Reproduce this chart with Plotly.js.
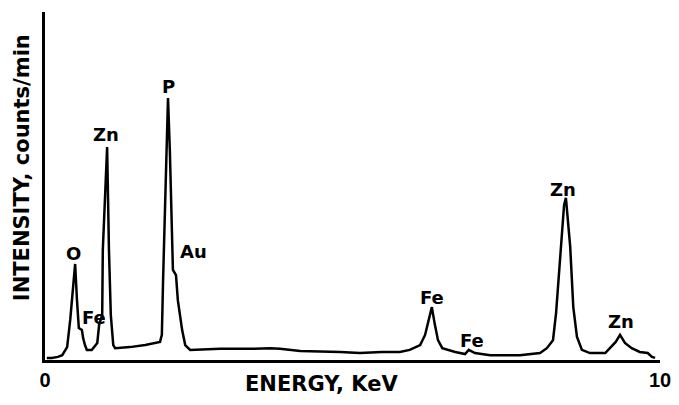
<!DOCTYPE html>
<html>
<head>
<meta charset="utf-8">
<script src="https://cdn.plot.ly/plotly-3.0.1.min.js"></script>
<style>html,body{margin:0;padding:0;background:#fff;}#chart{width:679px;height:405px;}</style>
</head>
<body>
<div id="chart"></div>
<script>
// Spectrum trace (energy in keV, intensity in arbitrary counts/min units, 0-100 scale)
const energy = [0.03,0.11,0.21,0.28,0.36,0.41,0.46,0.49,0.52,0.55,0.60,0.62,0.65,0.68,0.76,0.85,0.88,0.93,0.94,1.01,1.04,1.07,1.11,1.14,1.38,1.63,1.87,1.90,1.92,1.98,2.00,2.03,2.07,2.08,2.13,2.16,2.23,2.28,2.36,2.85,3.33,3.66,3.82,4.15,4.80,5.12,5.48,5.77,5.93,6.10,6.18,6.23,6.29,6.34,6.39,6.46,6.67,6.83,6.89,6.99,7.24,7.72,8.05,8.16,8.26,8.31,8.37,8.44,8.47,8.54,8.59,8.65,8.73,8.86,9.11,9.19,9.28,9.35,9.43,9.54,9.67,9.80,9.87,9.92];
const intensity = [0.6,0.6,0.9,1.4,3.7,11.5,21.6,27.6,17.2,9.2,8.6,6.3,4.3,2.9,2.9,4.9,10.1,12.9,31.6,61.2,31.6,12.9,4.3,3.4,3.7,4.3,5.2,7.2,23.0,60.3,75.3,60.3,34.5,25.9,24.4,17.2,8.6,4.3,2.9,3.2,3.2,3.4,3.2,2.6,2.3,2.0,2.3,2.3,2.9,4.3,7.2,10.6,15.2,10.1,5.7,3.4,2.3,1.7,2.9,2.0,1.4,1.4,2.0,3.4,5.7,13.5,27.9,44.5,46.6,32.5,15.2,6.6,2.9,2.0,2.0,3.4,5.2,7.2,4.9,3.4,2.3,2.0,0.9,0.6];

// Peak labels
const peakNames = ["O","Fe","Zn","P","Au","Fe","Fe","Zn","Zn"];
const peakEnergy = [0.46,0.80,0.99,2.00,2.41,6.29,6.94,8.42,9.37];
const peakLabelY = [30.7,12.1,64.7,78.7,31.3,18.1,5.7,48.9,11.2];

// Axis labels
const xTickVals = [0,10];
const xTickText = ["0","10"];
const xTitle = "ENERGY, KeV";
const yTitle = "INTENSITY, counts/min";

const labelFont = {family:"DejaVu Sans", size:18, color:"#000"};

const annotations = peakNames.map((n,i)=>({
  x: peakEnergy[i], y: peakLabelY[i], xref:"x", yref:"y",
  text: "<b>"+n+"</b>", showarrow:false, xanchor:"center", yanchor:"middle",
  font: labelFont
}));
annotations.push({
  xref:"paper", yref:"paper", x:0.45, y:-0.069, text:"<b>"+xTitle+"</b>",
  showarrow:false, xanchor:"center", yanchor:"middle",
  font:{family:"DejaVu Sans", size:21, color:"#000"}
});
annotations.push({
  xref:"paper", yref:"paper", x:-0.037, y:0.552, text:"<b>"+yTitle+"</b>",
  showarrow:false, xanchor:"center", yanchor:"middle", textangle:-90,
  font:{family:"DejaVu Sans", size:21, color:"#000"}
});

const trace = {
  x: energy, y: intensity, type:"scatter", mode:"lines",
  line:{color:"#000", width:2.5, shape:"linear"}, hoverinfo:"skip"
};

const layout = {
  width:679, height:405,
  margin:{l:45, r:19, t:12, b:45},
  paper_bgcolor:"#fff", plot_bgcolor:"#fff",
  showlegend:false,
  xaxis:{
    range:[0,10], showgrid:false, zeroline:false,
    showline:true, linecolor:"#000", linewidth:3,
    tickmode:"array", tickvals:xTickVals, ticktext:xTickText.map(t=>"<b>"+t+"</b>"),
    ticks:"", ticklabelstandoff:0,
    tickfont:{family:"Liberation Sans", size:20, color:"#000"}
  },
  yaxis:{
    range:[0,100], showgrid:false, zeroline:false,
    showline:true, linecolor:"#000", linewidth:3,
    showticklabels:false, ticks:""
  },
  annotations: annotations
};

Plotly.newPlot("chart", [trace], layout, {displayModeBar:false, staticPlot:true});
</script>
</body>
</html>
